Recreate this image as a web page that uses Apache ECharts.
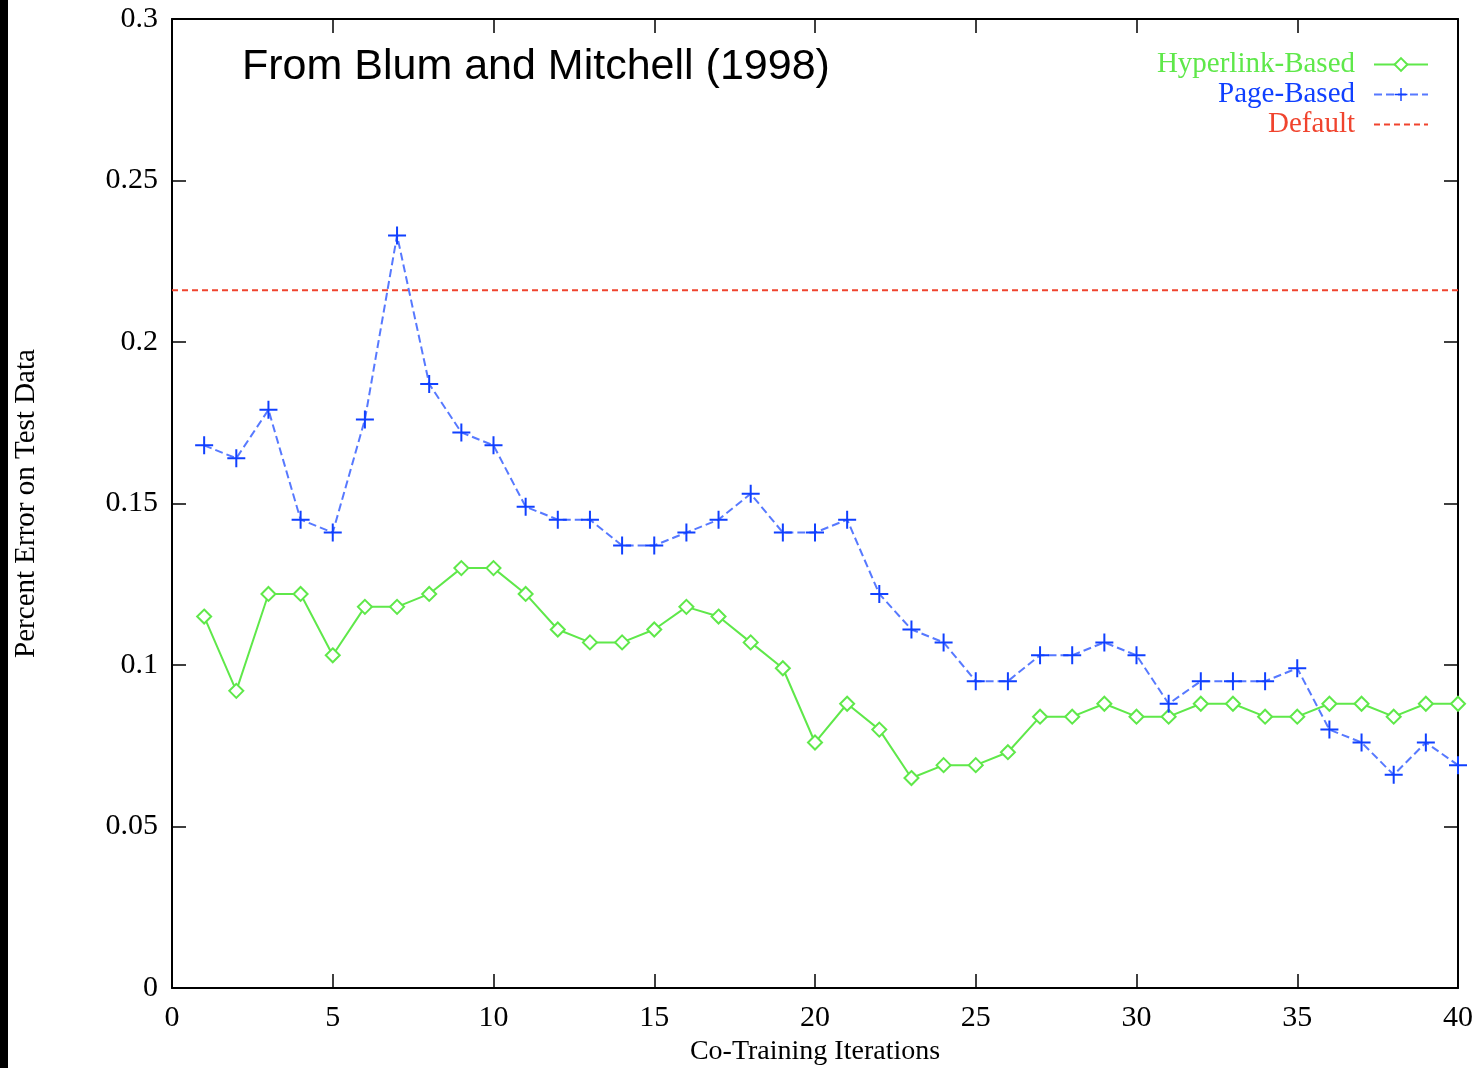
<!DOCTYPE html>
<html>
<head>
<meta charset="utf-8">
<script src="https://cdn.jsdelivr.net/npm/echarts@6/dist/echarts.min.js"></script>
<style>html,body{margin:0;padding:0;background:#fff;}#c{width:1480px;height:1068px;}</style>
</head>
<body>
<div id="c"></div>
<script>
var iterations = [1,2,3,4,5,6,7,8,9,10,11,12,13,14,15,16,17,18,19,20,21,22,23,24,25,26,27,28,29,30,31,32,33,34,35,36,37,38,39,40];
var hyperlinkBased = [0.115,0.092,0.122,0.122,0.103,0.118,0.118,0.122,0.130,0.130,0.122,0.111,0.107,0.107,0.111,0.118,0.115,0.107,0.099,0.076,0.088,0.080,0.065,0.069,0.069,0.073,0.084,0.084,0.088,0.084,0.084,0.088,0.088,0.084,0.084,0.088,0.088,0.084,0.088,0.088];
var pageBased = [0.168,0.164,0.179,0.145,0.141,0.176,0.233,0.187,0.172,0.168,0.149,0.145,0.145,0.137,0.137,0.141,0.145,0.153,0.141,0.141,0.145,0.122,0.111,0.107,0.095,0.095,0.103,0.103,0.107,0.103,0.088,0.095,0.095,0.095,0.099,0.080,0.076,0.066,0.076,0.069];
var defaultError = 0.216;
var defaultRange = [0, 40];
var xTickLabels = ['0','5','10','15','20','25','30','35','40'];
var yTickLabels = ['0','0.05','0.1','0.15','0.2','0.25','0.3'];
var seriesNames = ['Hyperlink-Based','Page-Based','Default'];

var GREEN = '#5fe84a', BLUE = '#1040ff', RED = '#f0442e';
var serif = '"Liberation Serif","DejaVu Serif",serif';

function pairs(xs, ys){ return xs.map(function(x,i){ return [x, ys[i]]; }); }

var chart = echarts.init(document.getElementById('c'));
var tickLen = 14;
function frameAxis(extra){
  var a = {
    axisLine: {onZero: false, lineStyle: {color: '#000', width: 2}},
    axisTick: {inside: true, length: tickLen, lineStyle: {color: '#000', width: 1.5}},
    splitLine: {show: false}
  };
  for (var k in extra) a[k] = extra[k];
  return a;
}
chart.setOption({
  animation: false,
  backgroundColor: '#fff',
  grid: {left: 172, right: 22, top: 19, bottom: 80, show: false, containLabel: false, outerBoundsMode: 'none'},
  graphic: [
    {type: 'rect', left: 0, top: 0, shape: {width: 8, height: 1068}, style: {fill: '#000'}},
    {type: 'text', left: 242, top: 46, style: {text: 'From Blum and Mitchell (1998)', font: '43px "Liberation Sans", Arial, sans-serif', fill: '#000'}}
  ],
  legend: {
    orient: 'vertical', right: 46, top: 45, align: 'right', itemGap: 1,
    itemWidth: 54, itemHeight: 16,
    data: [
      {name: seriesNames[0], textStyle: {color: GREEN}},
      {name: seriesNames[1], textStyle: {color: BLUE}},
      {name: seriesNames[2], textStyle: {color: RED}}
    ],
    textStyle: {fontFamily: serif, fontSize: 29, lineHeight: 28, width: 230, align: 'right', padding: [0, 14, 0, 0]}
  },
  xAxis: [
    frameAxis({type: 'value', min: 0, max: 40, interval: 5, position: 'bottom',
     name: 'Co-Training Iterations', nameLocation: 'middle', nameGap: 41,
     nameTextStyle: {fontFamily: serif, fontSize: 28, color: '#000'},
     axisLabel: {margin: 15, fontFamily: serif, fontSize: 30, color: '#000',
       formatter: function(v){ return xTickLabels[Math.round(v/5)]; }}}),
    frameAxis({type: 'value', min: 0, max: 40, interval: 5, position: 'top',
     axisLabel: {show: false}})
  ],
  yAxis: [
    frameAxis({type: 'value', min: 0, max: 0.3, interval: 0.05, position: 'left',
     name: 'Percent Error on Test Data', nameLocation: 'middle', nameGap: 131, nameRotate: 90,
     nameTextStyle: {fontFamily: serif, fontSize: 29, color: '#000'},
     axisLabel: {margin: 14, fontFamily: serif, fontSize: 30, color: '#000',
       formatter: function(v){ return yTickLabels[Math.round(v/0.05)]; }}}),
    frameAxis({type: 'value', min: 0, max: 0.3, interval: 0.05, position: 'right',
     axisLabel: {show: false}})
  ],
  series: [
    {name: seriesNames[0], type: 'line', data: pairs(iterations, hyperlinkBased),
     symbol: 'emptyDiamond', symbolSize: 14, showAllSymbol: true,
     lineStyle: {color: GREEN, width: 2},
     itemStyle: {color: GREEN, borderColor: GREEN, borderWidth: 2}, z: 3},
    {name: seriesNames[1], type: 'line', data: pairs(iterations, pageBased),
     symbol: 'path://M-1,-9H1V-1H9V1H1V9H-1V1H-9V-1H-1Z', symbolSize: 18, showAllSymbol: true,
     lineStyle: {color: BLUE, width: 2, type: [8, 4], opacity: 0.7},
     itemStyle: {color: BLUE}, z: 4},
    {name: seriesNames[2], type: 'line', data: pairs(defaultRange, [defaultError, defaultError]),
     symbol: 'circle', symbolSize: 0, showSymbol: false, lineStyle: {color: RED, width: 2, type: [6, 4]},
     itemStyle: {color: RED, opacity: 0}, z: 2}
  ]
});
</script>
</body>
</html>
